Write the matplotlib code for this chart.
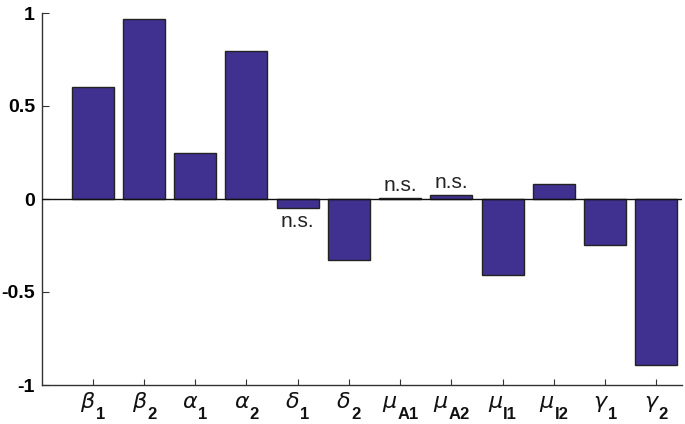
import matplotlib
matplotlib.use("Agg")
import matplotlib.pyplot as plt
import matplotlib.transforms as mtransforms
import numpy as np

# Data
greek = ["β", "β", "α", "α", "δ", "δ", "μ", "μ", "μ", "μ", "γ", "γ"]
subs = ["1", "2", "1", "2", "1", "2", "A1", "A2", "I1", "I2", "1", "2"]
values = [0.602, 0.968, 0.25, 0.796, -0.05, -0.33, 0.005, 0.022, -0.41, 0.08, -0.247, -0.893]
ns_flags = [False, False, False, False, True, False, True, True, False, False, False, False]
yticks = [-1, -0.5, 0, 0.5, 1]
ytick_labels = ["-1", "-0.5", "0", "0.5", "1"]

plt.rcParams["font.family"] = ["Liberation Sans", "DejaVu Sans"]

fig = plt.figure(figsize=(6.85, 4.24), dpi=100)
ax = fig.add_axes([42/685, 39/424, (682-42)/685, (385-13)/424])

x = np.arange(1, len(values) + 1)
bar_color = "#40308f"
ax.bar(x, values, width=0.82, color=bar_color, edgecolor="#222222", linewidth=1.0, zorder=2)
ax.axhline(0, color="#111111", linewidth=1.0, zorder=3)

for xi, v, ns in zip(x, values, ns_flags):
    if not ns:
        continue
    if v < 0.0 and abs(v) > 0.01:
        ax.text(xi, v - 0.02, "n.s.", ha="center", va="top", fontsize=15, color="#222222")
    else:
        ax.text(xi, max(v, 0) + 0.015, "n.s.", ha="center", va="bottom", fontsize=15, color="#222222")

ax.set_xlim(0.01, 12.5)
ax.set_ylim(-1, 1)
ax.set_xticks(x)
ax.set_xticklabels([""] * len(x))
ax.set_yticks(yticks)
ax.set_yticklabels(ytick_labels, fontsize=14, fontweight="bold")

for s in ["top", "right"]:
    ax.spines[s].set_visible(False)
for s in ["left", "bottom"]:
    ax.spines[s].set_color("#333333")
    ax.spines[s].set_linewidth(1.0)

ax.tick_params(axis="x", direction="in", length=4.5, width=0.8, color="#333333", pad=5)
ax.tick_params(axis="y", direction="in", length=5, width=0.8, color="#333333", pad=5)

# Composite x labels: greek letter + bold subscript
renderer = fig.canvas.get_renderer()
trans = ax.get_xaxis_transform()
gap = 1.0  # px
for xi, g, s in zip(x, greek, subs):
    tg = ax.text(xi, 0, g, fontsize=16, family="DejaVu Sans", style="italic",
                 color="#111111", ha="left", va="baseline", transform=trans)
    ts = ax.text(xi, 0, s, fontsize=12, family="Liberation Sans", weight="bold",
                 color="#111111", ha="left", va="baseline", transform=trans)
    wg = tg.get_window_extent(renderer).width
    ws = ts.get_window_extent(renderer).width
    W = wg + gap + ws
    tg.set_transform(mtransforms.offset_copy(trans, fig=fig, x=-W/2, y=-23, units="dots"))
    ts.set_transform(mtransforms.offset_copy(trans, fig=fig, x=-W/2 + wg + gap, y=-34, units="dots"))
    tg.set_clip_on(False)
    ts.set_clip_on(False)

fig.savefig("out.png", dpi=100)
